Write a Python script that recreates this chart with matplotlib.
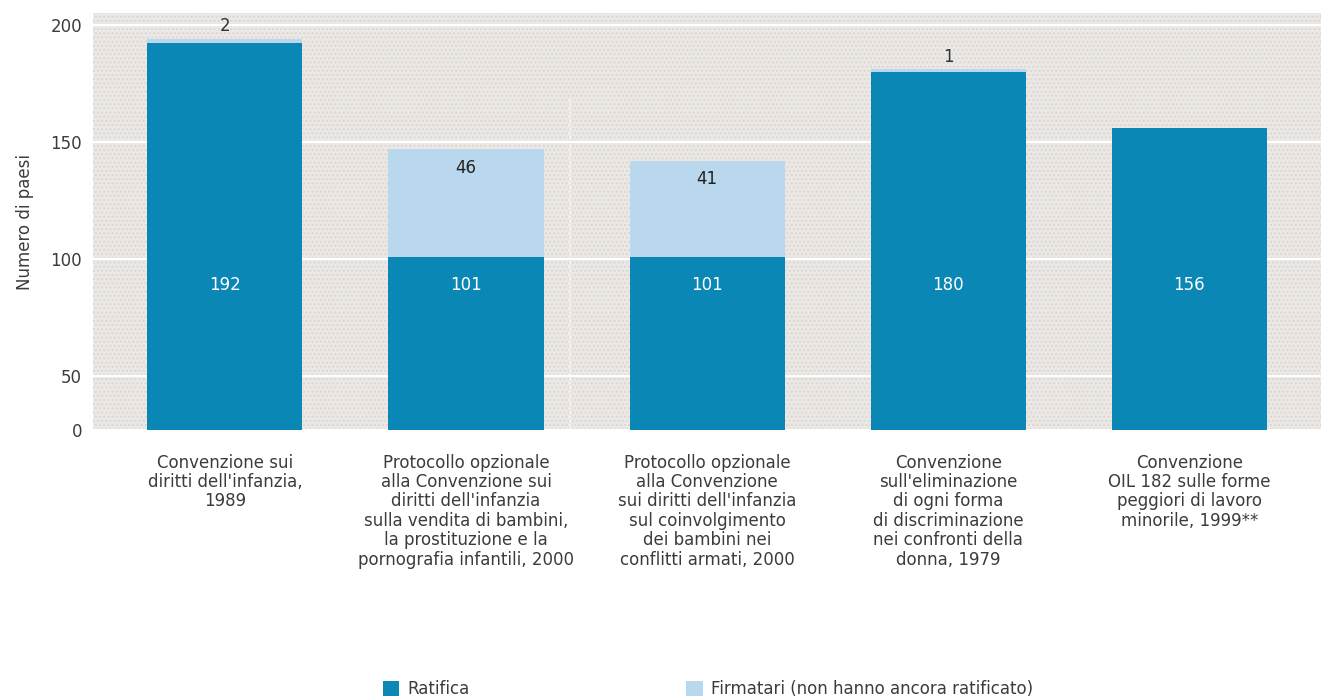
import numpy as np
import matplotlib.pyplot as plt

plt.rcParams['font.family'] = ['DejaVu Sans']

categorie = [
    "Convenzione sui\ndiritti dell'infanzia,\n1989",
    "Protocollo opzionale\nalla Convenzione sui\ndiritti dell'infanzia\nsulla vendita di bambini,\nla prostituzione e la\npornografia infantili, 2000",
    "Protocollo opzionale\nalla Convenzione\nsui diritti dell'infanzia\nsul coinvolgimento\ndei bambini nei\nconflitti armati, 2000",
    "Convenzione\nsull'eliminazione\ndi ogni forma\ndi discriminazione\nnei confronti della\ndonna, 1979",
    "Convenzione\nOIL 182 sulle forme\npeggiori di lavoro\nminorile, 1999**",
]
ratifica = [192, 101, 101, 180, 156]
firmatari = [2, 46, 41, 1, 0]

blu = '#0b87b6'
azzurro = '#bad8ed'
sfondo = '#ece8e5'
testo = '#3c3c3c'

fig = plt.figure(figsize=(13.21, 7.0), dpi=100)
ax = fig.add_axes([0.0704, 0.3857, 0.9296, 0.5957])
ax.set_facecolor(sfondo)
ax.patch.set_hatch('....')
ax.patch.set_edgecolor('#dcd7d2')
ax.patch.set_linewidth(0)

# asse troncato come nell'originale: il fondo viene etichettato "0"
y_min, y_max = 27, 205

x = np.arange(len(categorie))
w = 0.643
ax.bar(x, ratifica, w, color=blu, label='Ratifica', zorder=3)
ax.bar(x, firmatari, w, bottom=ratifica, color=azzurro,
       label='Firmatari (non hanno ancora ratificato)', zorder=3)

for i in range(len(x)):
    ax.text(x[i], 89, str(ratifica[i]), ha='center', va='center',
            color='white', fontsize=12, zorder=4)
    f = firmatari[i]
    if f == 0:
        continue
    top = ratifica[i] + f
    if f > 10:
        ax.text(x[i], top - 8, str(f), ha='center', va='center',
                color='#222222', fontsize=12, zorder=4)
    else:
        ax.text(x[i], top + 1.5, str(f), ha='center', va='bottom',
                color='#333333', fontsize=12, zorder=4)

ax.set_ylim(y_min, y_max)
ax.set_xlim(-0.547, 4.546)
ax.set_yticks([y_min, 50, 100, 150, 200])
ax.set_yticklabels(['0', '50', '100', '150', '200'])
ax.yaxis.grid(True, color='white', linewidth=1.5, zorder=1)
ax.set_axisbelow(True)
ax.plot([1.43, 1.43], [y_min, 169], color='white', linewidth=1.2,
        linestyle=(0, (1, 1.5)), zorder=1)
ax.set_xticks(x)
ax.set_xticklabels(categorie, fontsize=12, color=testo, linespacing=1.1)
ax.tick_params(axis='both', length=0, labelsize=12, colors=testo)
ax.tick_params(axis='x', pad=17)
ax.tick_params(axis='y', pad=8)
for s in ax.spines.values():
    s.set_visible(False)
ax.set_ylabel('Numero di paesi', fontsize=12, color=testo, labelpad=12)

fig.legend(loc='center', bbox_to_anchor=(0.536, 0.016), ncol=2,
           frameon=False, fontsize=12, handlelength=1.0, handleheight=1.0,
           columnspacing=13, handletextpad=0.5, labelcolor=testo)

fig.savefig('out.png', dpi=100)
